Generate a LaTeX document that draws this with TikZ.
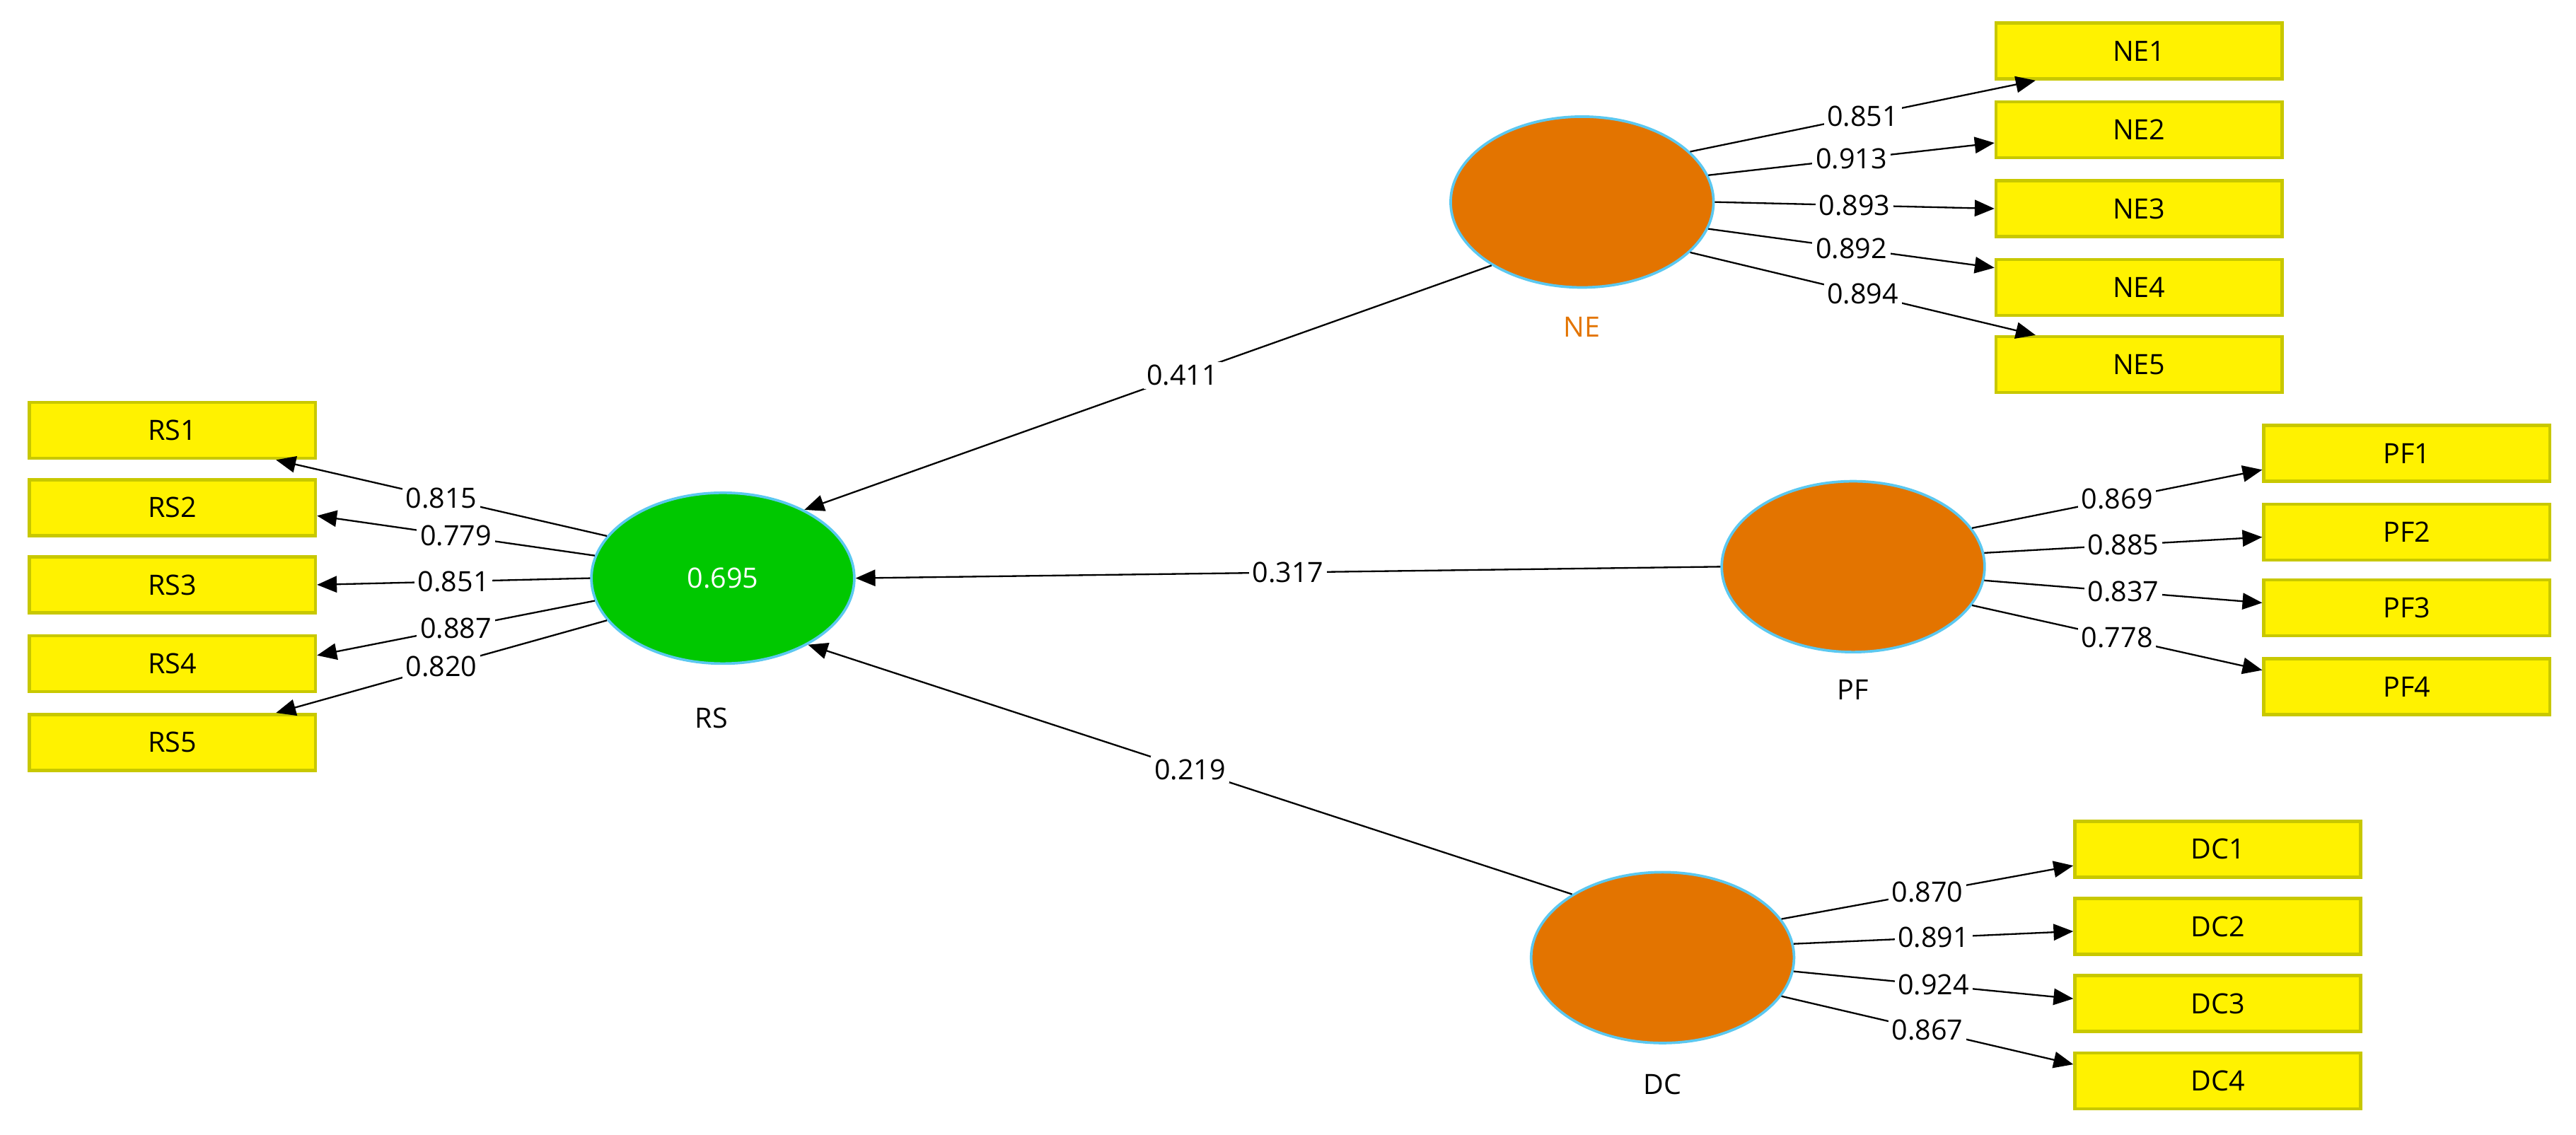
\documentclass[tikz,border=0pt]{standalone}
\usepackage{fontspec}
\setmainfont{Open Sans}
\usetikzlibrary{arrows.meta,calc,shapes.geometric}
\definecolor{boxb}{HTML}{C8C800}
\definecolor{org}{HTML}{E37400}
\definecolor{grn}{HTML}{00C800}
\definecolor{bl}{HTML}{5BC8F0}
\begin{document}
\begin{tikzpicture}[x=0.5pt,y=-0.5pt,
  ind/.style={draw=boxb,line width=1pt,fill=yellow,minimum width=87pt,minimum height=17pt,inner sep=0pt,font=\fontsize{8.5}{9}\selectfont},
  lv/.style={ellipse,draw=bl,line width=0.8pt,fill=org,minimum width=80pt,minimum height=52pt,inner sep=0pt},
  lab/.style={font=\fontsize{8.5}{9}\selectfont},
  con/.style={line width=0.5pt,-{Triangle[length=6pt,width=5pt]}},
  w/.style={fill=white,inner sep=1pt,font=\fontsize{8.5}{9}\selectfont,midway}]
\useasboundingbox (0,0) rectangle (1568,691);
% RS
\node[lv,fill=grn,text=white,font=\fontsize{8.5}{9}\selectfont] (RS) at (440,352) {0.695};
\node[lab] (RSl) at (433,437) {RS};
\foreach \i/\y in {1/262,2/309,3/356,4/404,5/452}{\node[ind] (RS\i) at (105,\y) {RS\i};}
% NE
\node[lv] (NE) at (963,123) {};
\node[lab,text=org] (NEl) at (963,199) {NE};
\foreach \i/\y in {1/31,2/79,3/127,4/175,5/222}{\node[ind] (NE\i) at (1302,\y) {NE\i};}
% PF
\node[lv] (PF) at (1128,345) {};
\node[lab] (PFl) at (1128,420) {PF};
\foreach \i/\y in {1/276,2/324,3/370,4/418}{\node[ind] (PF\i) at (1465,\y) {PF\i};}
% DC
\node[lv] (DC) at (1012,583) {};
\node[lab] (DCl) at (1012,660) {DC};
\foreach \i/\y in {1/517,2/564,3/611,4/658}{\node[ind] (DC\i) at (1350,\y) {DC\i};}
% RS indicators
\draw[con] (RS.160) -- ($(RS1.south east)+(-25,0)$) node[w]{0.815};
\draw[con] (RS.170) -- ($(RS2.east)+(0,5)$) node[w]{0.779};
\draw[con] (RS.180) -- (RS3.east) node[w]{0.851};
\draw[con] (RS.190) -- ($(RS4.east)+(0,-5)$) node[w]{0.887};
\draw[con] (RS.200) -- ($(RS5.north east)+(-25,0)$) node[w]{0.820};
% NE
\draw[con] (NE.25) -- ($(NE1.south west)+(25,0)$) node[w]{0.851};
\draw[con] (NE.12) -- ($(NE2.west)+(0,8)$) node[w]{0.913};
\draw[con] (NE.0) -- (NE3.west) node[w]{0.893};
\draw[con] (NE.-12) -- ($(NE4.west)+(0,-12)$) node[w]{0.892};
\draw[con] (NE.-25) -- ($(NE5.north west)+(25,0)$) node[w]{0.894};
% PF
\draw[con] (PF.18) -- ($(PF1.west)+(0,10)$) node[w]{0.869};
\draw[con] (PF.6) -- ($(PF2.west)+(0,3)$) node[w]{0.885};
\draw[con] (PF.-6) -- ($(PF3.west)+(0,-3)$) node[w]{0.837};
\draw[con] (PF.-18) -- ($(PF4.west)+(0,-10)$) node[w]{0.778};
% DC
\draw[con] (DC.18) -- ($(DC1.west)+(0,10)$) node[w]{0.870};
\draw[con] (DC.6) -- ($(DC2.west)+(0,3)$) node[w]{0.891};
\draw[con] (DC.-6) -- ($(DC3.west)+(0,-3)$) node[w]{0.924};
\draw[con] (DC.-18) -- ($(DC4.west)+(0,-10)$) node[w]{0.867};
% structural
\draw[con] (NE.215) -- (RS.40) node[w,pos=0.45]{0.411};
\draw[con] (PF.180) -- (RS.0) node[w,pos=0.5]{0.317};
\draw[con] (DC.145) -- (RS.-38) node[w,pos=0.5]{0.219};
\end{tikzpicture}
\end{document}
